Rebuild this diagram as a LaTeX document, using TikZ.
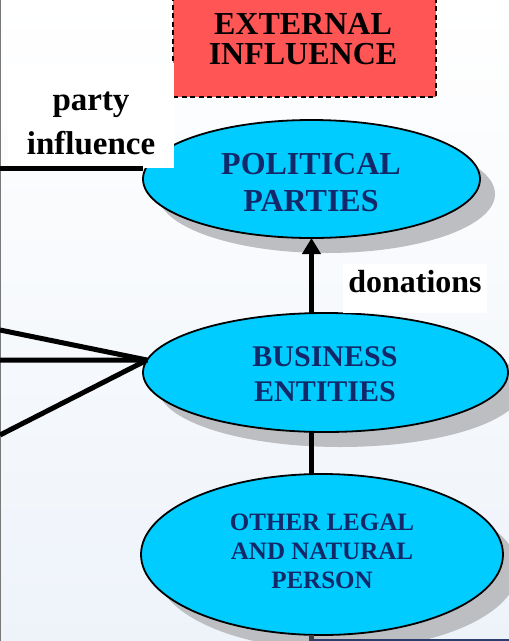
\documentclass[tikz,border=0pt]{standalone}
\usepackage{fontspec}
\setmainfont{Liberation Serif}
\usetikzlibrary{shapes.geometric,arrows.meta}
\definecolor{bgtop}{RGB}{255,255,255}
\definecolor{bgbot}{RGB}{238,243,250}
\definecolor{cyanfill}{RGB}{0,204,255}
\definecolor{navytext}{RGB}{18,40,105}
\definecolor{redfill}{RGB}{255,85,85}
\definecolor{shadowgray}{RGB}{189,190,193}
\definecolor{framegray}{RGB}{120,120,120}
\definecolor{framenavy}{RGB}{45,62,110}
\begin{document}
\begin{tikzpicture}[x=1pt,y=-1pt,
  ell/.style={ellipse, draw=black, line width=1.8pt, fill=cyanfill, inner sep=0pt, outer sep=0pt},
  shad/.style={ellipse, fill=shadowgray, inner sep=0pt, outer sep=0pt},
  conn/.style={line width=5pt},
  enttext/.style={text=navytext, align=center, inner sep=0pt},
  lbltext/.style={text=black, align=center, inner sep=0pt},
  whitebox/.style={fill=white, inner sep=0pt, outer sep=0pt}
]
\useasboundingbox (0,0) rectangle (509,641);
\clip (0,0) rectangle (509,641);
\shade[top color=bgtop, bottom color=bgbot] (0,0) rectangle (509,641);
\draw[framegray, line width=1.2pt] (0.6,0) -- (0.6,641);

% external influence box
\node[draw=black, line width=2pt, dash pattern=on 5pt off 3.5pt, fill=redfill,
      minimum width=263pt, minimum height=106pt, inner sep=0pt] (ext) at (304.5,43.5) {};

% shadows
\node[shad, minimum width=337pt, minimum height=118pt] (pps) at (326.5,194) {};
\node[shad, minimum width=365pt, minimum height=119pt] (buss) at (340.5,387.5) {};
\node[shad, minimum width=362pt, minimum height=161pt] (oths) at (337,569.5) {};

% ellipses
\node[ell, minimum width=337pt, minimum height=118pt] (pp) at (311.5,179) {};
\node[ell, minimum width=365pt, minimum height=119pt] (bus) at (325.5,372.5) {};
\node[ell, minimum width=362pt, minimum height=161pt] (oth) at (322,554.5) {};

% label boxes
\node[whitebox, minimum width=166pt, minimum height=105pt] (pibox) at (91,115.5) {};
\node[whitebox, minimum width=144pt, minimum height=49pt] (donbox) at (415,288.5) {};

% free ends
\coordinate (lp) at (0,168);
\coordinate (l1) at (0,330);
\coordinate (l2) at (0,360);
\coordinate (l3) at (0,435);
\coordinate (bot) at (311.5,650);

% connectors
\draw[conn] (lp) -- (lp -| pp.west);
\draw[conn] (l1) -- (bus.176);
\draw[conn] (l2) -- (bus.176);
\draw[conn] (l3) -- (bus.176);
\draw[conn, -{Triangle[width=18pt,length=16pt]}] (bus.north -| pp.south) -- (pp.south);
\draw[conn] (bus.south -| pp.south) -- (oth.north -| pp.south);
\draw[conn, draw=black!75] (oth.south -| pp.south) -- (bot);
\draw[framenavy, line width=2pt] (bot |- 0,640) -- (509,640);

% texts
\node[lbltext, font=\fontsize{32}{30}\selectfont\bfseries] (exttext) at (303,39.5) {EXTERNAL\\INFLUENCE};
\node[lbltext, font=\fontsize{33}{44}\selectfont\bfseries] (pitext) at (91,123) {party\\influence};
\node[lbltext, font=\fontsize{32}{36}\selectfont\bfseries] (dontext) at (415,282) {donations};
\node[enttext, font=\fontsize{32}{37}\selectfont\bfseries] (pptext) at (311,183) {POLITICAL\\PARTIES};
\node[enttext, font=\fontsize{30}{35}\selectfont\bfseries] (bustext) at (325,374.5) {BUSINESS\\ENTITIES};
\node[enttext, font=\fontsize{25}{29}\selectfont\bfseries] (othtext) at (322,551) {OTHER LEGAL\\AND NATURAL\\PERSON};
\end{tikzpicture}
\end{document}
